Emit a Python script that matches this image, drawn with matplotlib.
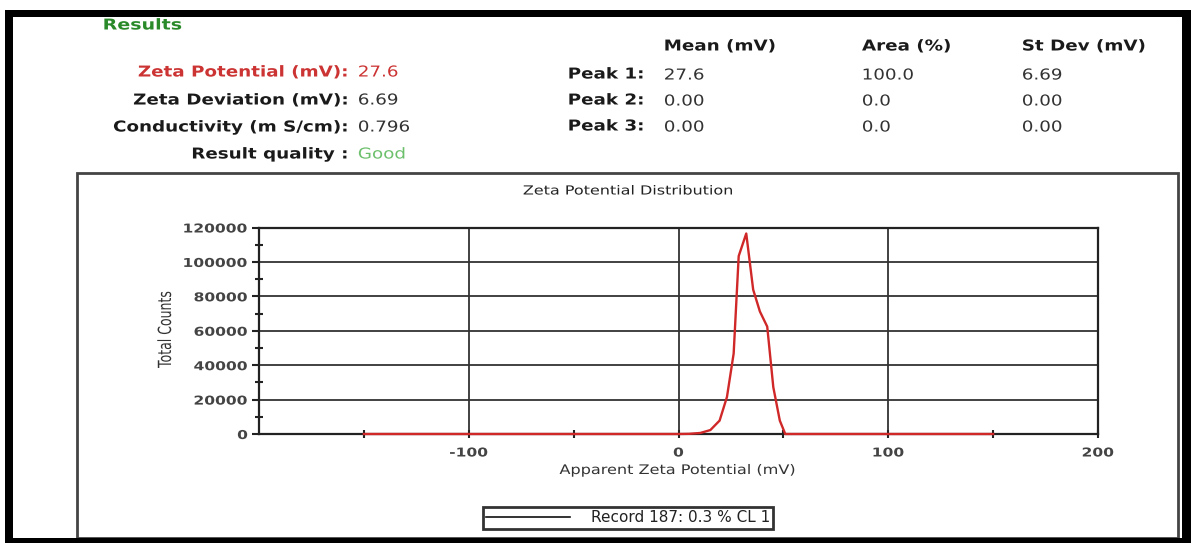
import matplotlib
matplotlib.use("Agg")
import matplotlib.pyplot as plt
from matplotlib.patheffects import AbstractPathEffect
from matplotlib.transforms import Affine2D
from matplotlib.patches import Rectangle
from matplotlib.lines import Line2D

# ---------------- data ----------------
zeta_mv = [-150, 0, 5, 10.4, 15.2, 19.6, 23.1, 26.3, 28.7, 32.3, 35.6, 38.8, 42.3, 45.2, 48.3, 50.9, 55, 150]
total_counts = [0, 0, 100, 600, 2300, 7800, 21500, 46800, 103400, 116500, 83900, 71200, 62400, 27200, 7800, 0, 0, 0]

x_major = [-100, 0, 100, 200]
x_major_labels = ["-100", "0", "100", "200"]
x_minor = [-150, -50, 50, 150]
y_major = [0, 20000, 40000, 60000, 80000, 100000, 120000]
y_major_labels = ["0", "20000", "40000", "60000", "80000", "100000", "120000"]
y_minor = [10000, 30000, 50000, 70000, 90000, 110000]

summary_labels = ["Zeta Potential (mV):", "Zeta Deviation (mV):", "Conductivity (m S/cm):", "Result quality :"]
summary_values = ["27.6", "6.69", "0.796", "Good"]
peak_headers = ["Mean (mV)", "Area (%)", "St Dev (mV)"]
peak_names = ["Peak 1:", "Peak 2:", "Peak 3:"]
peak_mean = ["27.6", "0.00", "0.00"]
peak_area = ["100.0", "0.0", "0.0"]
peak_sd = ["6.69", "0.00", "0.00"]
legend_label = "Record 187: 0.3 % CL 1"

# ---------------- helpers ----------------
W, H = 1191, 543


def fx(x):
    return x / W


def fy(y):
    return 1 - y / H


class Stretch(AbstractPathEffect):
    """Draw text glyphs stretched (the reference's text is horizontally wide)."""

    def __init__(self, sx=1.3, sy=1.0, anchor=0.0):
        super().__init__()
        self.sx, self.sy, self.anchor = sx, sy, anchor

    def draw_path(self, renderer, gc, tpath, affine, rgbFace=None):
        ext = tpath.get_extents()
        px = ext.x0 + self.anchor * (ext.x1 - ext.x0)
        t = Affine2D().translate(-px, 0).scale(self.sx, self.sy).translate(px, 0) + affine
        renderer.draw_path(gc, tpath, t, rgbFace)


SX = 1.22
FS = 10.8

fig = plt.figure(figsize=(W / 100, H / 100), dpi=100)
fig.patch.set_facecolor("white")

# outer black frame
for (x0, y0, x1, y1) in [(5, 10, 1191, 17), (5, 10, 13, 543), (1182, 10, 1191, 543), (5, 538, 1191, 543)]:
    fig.add_artist(Rectangle((fx(x0), fy(y1)), (x1 - x0) / W, (y1 - y0) / H,
                             transform=fig.transFigure, facecolor="black", edgecolor="none", zorder=10))
# grey chart frame
fig.add_artist(Rectangle((fx(77), fy(538)), (1178 - 77) / W, (538 - 173) / H,
                         transform=fig.transFigure, facecolor="none", edgecolor="#444", lw=2, zorder=1))

# ---------------- results text ----------------
t = fig.text(fx(103), fy(25), "Results", color="#2a8a2a", fontweight="bold", fontsize=FS, ha="left", va="center")
t.set_path_effects([Stretch(SX + 0.05, anchor=0)])

row_y = [72, 100, 127, 154]
label_colors = ["#cc3333", "#1a1a1a", "#1a1a1a", "#1a1a1a"]
value_colors = ["#cc3333", "#333333", "#333333", "#6cc06c"]
for lab, val, yy, lc, vc in zip(summary_labels, summary_values, row_y, label_colors, value_colors):
    t = fig.text(fx(348), fy(yy), lab, color=lc, fontweight="bold", fontsize=FS, ha="right", va="center")
    t.set_path_effects([Stretch(SX, anchor=1)])
    t = fig.text(fx(358), fy(yy), val, color=vc, fontsize=FS, ha="left", va="center")
    t.set_path_effects([Stretch(SX, anchor=0)])

col_x = [664, 862, 1022]
for hdr, xx in zip(peak_headers, col_x):
    t = fig.text(fx(xx), fy(46), hdr, color="#1a1a1a", fontweight="bold", fontsize=FS, ha="left", va="center")
    t.set_path_effects([Stretch(SX, anchor=0)])

peak_y = [74, 100, 126]
for i, yy in enumerate(peak_y):
    t = fig.text(fx(568), fy(yy), peak_names[i], color="#1a1a1a", fontweight="bold", fontsize=FS, ha="left", va="center")
    t.set_path_effects([Stretch(SX, anchor=0)])
    for vals, xx in zip([peak_mean, peak_area, peak_sd], col_x):
        t = fig.text(fx(xx), fy(yy + 1), vals[i], color="#333333", fontsize=FS, ha="left", va="center")
        t.set_path_effects([Stretch(SX, anchor=0)])

# ---------------- chart ----------------
t = fig.text(fx(628), fy(191), "Zeta Potential Distribution", color="#222", fontsize=9, ha="center", va="center")
t.set_path_effects([Stretch(1.28, anchor=0.5)])

ax = fig.add_axes([fx(259), fy(434), (1098 - 259) / W, (434 - 227.5) / H])
ax.set_facecolor("white")
ax.plot(zeta_mv, total_counts, color="#d02828", lw=1.7, zorder=4, clip_on=False)
ax.set_xlim(-200, 200)
ax.set_ylim(0, 120000)

ax.set_xticks(x_major)
ax.set_xticklabels(x_major_labels)
ax.set_xticks(x_minor, minor=True)
ax.set_yticks(y_major)
ax.set_yticklabels(y_major_labels)
ax.set_yticks(y_minor, minor=True)

ax.grid(True, which="major", color="#333", lw=1.3)
ax.set_axisbelow(True)
for sp in ax.spines.values():
    sp.set_color("#222")
    sp.set_linewidth(1.6)

ax.tick_params(axis="y", which="major", direction="out", length=5, width=1.5, color="#222",
               labelsize=8.8, labelcolor="#444", pad=3)
ax.tick_params(axis="y", which="minor", direction="inout", length=6, width=1.5, color="#222")
ax.tick_params(axis="x", which="both", direction="inout", length=6, width=1.5, color="#222",
               labelsize=8.8, labelcolor="#444", pad=6)

for lab in ax.get_yticklabels():
    lab.set_fontweight("bold")
    lab.set_path_effects([Stretch(1.27, anchor=1)])
for lab in ax.get_xticklabels():
    lab.set_fontweight("bold")
    lab.set_path_effects([Stretch(1.27, anchor=0.5)])

ax.set_ylabel("Total Counts", fontsize=9, color="#333")
ax.yaxis.set_label_coords((174 - 259) / 839, (434 - 329.5) / 206.5)
ax.yaxis.label.set_path_effects([Stretch(1.0, 1.45, anchor=0.5)])

ax.set_xlabel("Apparent Zeta Potential (mV)", fontsize=9.5, color="#333")
ax.xaxis.set_label_coords(0.5, (434 - 464) / 206.5)
ax.xaxis.label.set_path_effects([Stretch(1.22, anchor=0.5)])

leg = ax.legend(handles=[Line2D([], [], color="#111", lw=1.2)], labels=[legend_label],
                loc="center", bbox_to_anchor=(fx(628), fy(518)), bbox_transform=fig.transFigure,
                frameon=True, fancybox=False, edgecolor="#333", framealpha=1, fontsize=11,
                handlelength=5.5, handletextpad=1.4, borderpad=0.2, borderaxespad=0)
leg.get_frame().set_linewidth(2.0)
for tx in leg.get_texts():
    tx.set_color("#222")

fig.savefig("out.png", dpi=100, facecolor="white")
